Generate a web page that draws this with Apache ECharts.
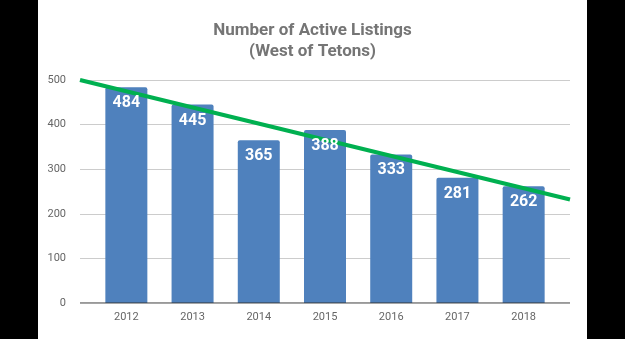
<!DOCTYPE html>
<html><head><meta charset="utf-8">
<script src="https://cdn.jsdelivr.net/npm/echarts@6/dist/echarts.min.js"></script>
<style>
html,body{margin:0;padding:0;background:#000;width:625px;height:339px;overflow:hidden}
#c{position:absolute;left:38px;top:0;width:549px;height:339px;background:#fff}
</style></head>
<body><div id="c"></div>
<script>
const years = [2012, 2013, 2014, 2015, 2016, 2017, 2018];
const listings = [484, 445, 365, 388, 333, 281, 262];
const trendX = [2011.3, 2018.7];
const trendY = [500, 232];
const yTicks = [0, 100, 200, 300, 400, 500];

const chart = echarts.init(document.getElementById('c'));
const barData = years.map((y, i) => [y, listings[i]]);
chart.setOption({
  animation: false,
  title: {
    text: 'Number of Active Listings\n(West of Tetons)',
    left: 'center', top: 15,
    textStyle: {fontFamily: 'Roboto', fontWeight: 'bold', fontSize: 17, color: '#757575', lineHeight: 21}
  },
  grid: {left: 42, right: 17, top: 80, bottom: 36},
  xAxis: {
    type: 'value', min: trendX[0], max: trendX[1],
    axisLine: {show: false}, axisTick: {show: false}, splitLine: {show: false},
    axisLabel: {customValues: years, formatter: v => String(Math.round(v)), color: '#666', fontFamily: 'Roboto', fontSize: 11, margin: 9}
  },
  yAxis: {
    type: 'value', min: 0, max: 500, interval: 100,
    axisLine: {show: false}, axisTick: {show: false},
    splitLine: {lineStyle: {color: '#cccccc', width: 1}},
    axisLabel: {customValues: yTicks, color: '#666', fontFamily: 'Roboto', fontSize: 11, margin: 14}
  },
  series: [
    {
      type: 'bar', barWidth: 42, barGap: '-100%',
      data: barData, z: 2,
      itemStyle: {color: '#4f81bd', borderRadius: [2, 2, 0, 0]}
    },
    {
      type: 'line', data: trendX.map((x, i) => [x, trendY[i]]), symbol: 'none',
      lineStyle: {color: '#00b050', width: 4}, z: 5
    },
    {
      type: 'line', data: [[trendX[0], 0], [trendX[1], 0]], symbol: 'none', silent: true,
      lineStyle: {color: '#333', width: 1}, z: 6
    },
    {
      type: 'bar', barWidth: 42, barGap: '-100%',
      data: barData, z: 10, silent: true,
      itemStyle: {color: 'rgba(0,0,0,0)'},
      label: {show: true, position: 'insideTop', distance: 8, color: '#fff', fontFamily: 'Roboto', fontWeight: 'bold', fontSize: 16,
        formatter: p => p.value[1]}
    }
  ]
});
</script></body></html>
